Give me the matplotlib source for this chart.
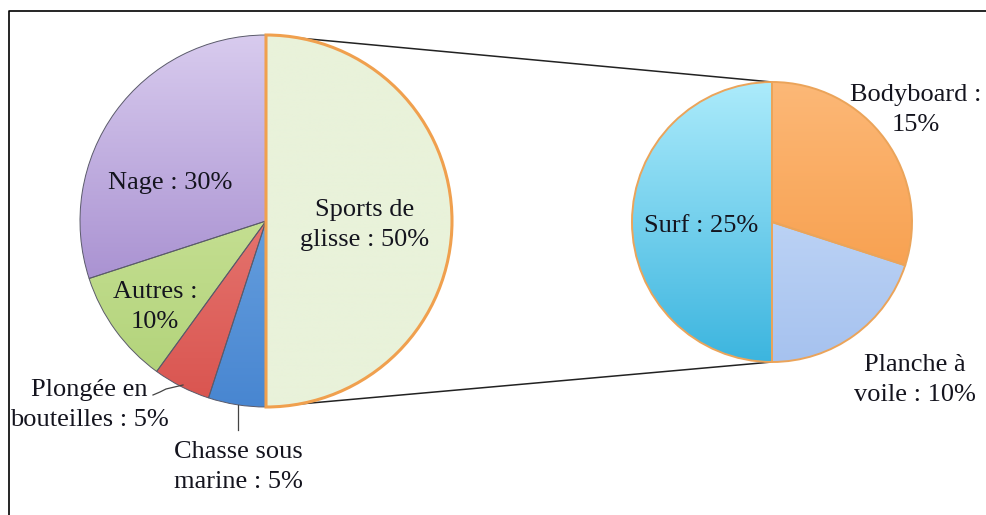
import matplotlib.pyplot as plt
import matplotlib.colors as mcolors
import numpy as np

# données
main_labels = ['Nage : 30%', 'Autres :\n10%', 'Plongée en\nbouteilles : 5%',
               'Chasse sous\nmarine : 5%', 'Sports de\nglisse : 50%']
main_values = [30, 10, 5, 5, 50]
# (haut, bas) pour le dégradé
main_colors = [('#d8cbee', '#9275c3'), ('#d9ecac', '#afd176'), ('#f0928c', '#d9544f'),
               ('#82b6ea', '#4886d1'), ('#e9f2da', '#e9f2da')]

sub_labels = ['Surf : 25%', 'Planche à\nvoile : 10%', 'Bodyboard :\n15%']
sub_values = [25, 10, 15]
sub_colors = [('#acebfb', '#3cb5df'), ('#d0e2fa', '#a6c2ef'), ('#fcb877', '#f6963e')]

W, H = 987, 515
plt.rcParams['font.family'] = ['Liberation Serif', 'DejaVu Serif']

fig = plt.figure(figsize=(W / 100, H / 100), dpi=100)
ax = fig.add_axes([0, 0, 1, 1])


def py(y):
    # pixel y (depuis le haut) -> coordonnée de l'axe
    return H - y


# cadre (haut et gauche seulement)
ax.plot([9, 9, W], [0, py(11), py(11)], color='black', lw=1.2, zorder=1)

c1, r1 = (266, py(221)), 186
c2, r2 = (772, py(222)), 140

# lignes de liaison
ax.plot([c1[0], c2[0]], [c1[1] + r1, c2[1] + r2], color='#222222', lw=1.1, zorder=1)
ax.plot([c1[0], c2[0]], [c1[1] - r1, c2[1] - r2], color='#222222', lw=1.1, zorder=1)

wedges1, _ = ax.pie(main_values, colors=[c[0] for c in main_colors], startangle=90,
                    center=c1, radius=r1, frame=True,
                    wedgeprops=dict(edgecolor='#5a5a6a', linewidth=0.7))
wedges1[-1].set_edgecolor('#f0a04e')
wedges1[-1].set_linewidth(2.2)

wedges2, _ = ax.pie(sub_values, colors=[c[0] for c in sub_colors], startangle=90,
                    center=c2, radius=r2, frame=True,
                    wedgeprops=dict(edgecolor='#eba45a', linewidth=1.4))
ax.set_xlim(0, W)
ax.set_ylim(0, H)
ax.set_aspect('equal')
ax.axis('off')

# dégradé vertical sur les secteurs
grad = np.linspace(0, 1, 256).reshape(-1, 1, 1)
pairs = list(zip(wedges1, main_colors)) + list(zip(wedges2, sub_colors))
for w, (top, bottom) in pairs:
    t = np.array(mcolors.to_rgb(top))
    b = np.array(mcolors.to_rgb(bottom))
    img = b * (1 - grad) + t * grad
    cx, cy = w.center
    r = w.r
    im = ax.imshow(img, extent=[cx - r, cx + r, cy - r, cy + r], origin='lower',
                   zorder=2, aspect='auto', interpolation='bilinear')
    im.set_clip_path(w)
    w.set_facecolor('none')
    w.set_zorder(3 if w is not wedges1[-1] else 3.5)
ax.set_xlim(0, W)
ax.set_ylim(0, H)

fs = 19
txt = dict(ha='center', va='center', fontsize=fs, color='#14141e', linespacing=1.42, zorder=10)
ax.text(170, py(183), main_labels[0], **txt)
ax.text(155, py(307), main_labels[1], **txt)
ax.text(89, py(405), main_labels[2], **txt)
ax.text(238, py(467), main_labels[3], **txt)
ax.text(365, py(225), main_labels[4], **txt)
ax.text(701, py(226), sub_labels[0], **txt)
ax.text(915, py(380), sub_labels[1], **txt)
ax.text(916, py(110), sub_labels[2], **txt)

# traits de rappel
ax.plot([153, 160, 166, 183], [py(395), py(392), py(389), py(385)], color='#444444', lw=0.9, zorder=10)
ax.plot([238, 238], [py(405), py(430)], color='#444444', lw=0.9, zorder=10)

fig.savefig('out.png', dpi=100, facecolor='white')
